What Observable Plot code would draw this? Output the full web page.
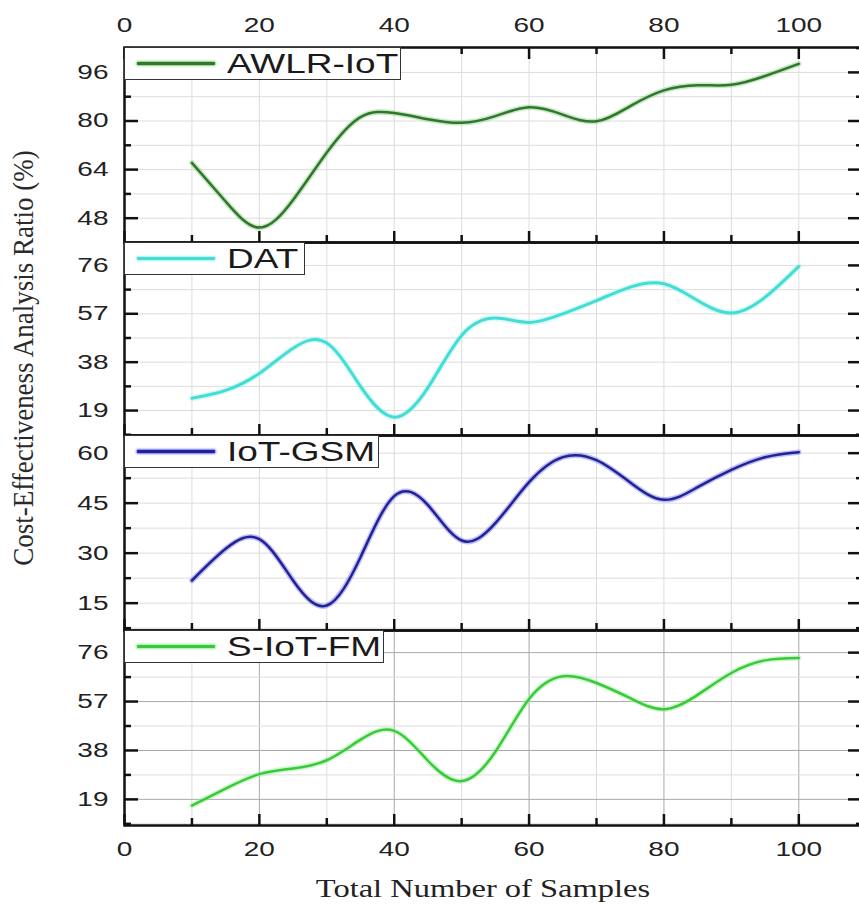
<!DOCTYPE html>
<html><head><meta charset="utf-8">
<script src="https://cdn.jsdelivr.net/npm/d3@7"></script>
<script src="https://cdn.jsdelivr.net/npm/@observablehq/plot@0.6"></script>
<style>
html,body{margin:0;padding:0;background:#fff;overflow:hidden;width:859px;height:904px}
#root{position:relative;width:859px;height:904px;overflow:hidden;background:#fff}
.panel{position:absolute;left:0;width:866px;overflow:visible}
.panel svg{max-width:none !important}
.legend{position:absolute;left:124px;box-sizing:border-box;border:1.5px solid #333;background:#fff;}
.legend .sw{position:absolute;left:12px;top:14px;width:78px;height:3px;border-radius:1px}
.legend .lt{position:absolute;left:102px;top:3px;font-family:"Liberation Sans",Arial,sans-serif;font-size:27px;color:#1a1a1a;transform:scaleX(1.37);transform-origin:left center;white-space:nowrap;line-height:1}
</style></head><body><div id="root"></div>
<script>
// ---- data ----
const samples = [10,15,20,25,30,35,40,45,50,55,60,65,70,75,80,85,90,95,100];
const awlrIoT = [66.2,53.5,44.9,54.0,69.6,81.3,82.6,80.6,79.4,81.6,84.5,82.1,79.9,84.9,90.1,91.8,91.9,94.8,98.8];
const dat     = [23.8,26.9,33.6,43.5,45.5,28.5,16.4,28.0,48.5,55.3,53.6,57.0,62.2,67.5,68.8,62.2,57.3,63.5,75.6];
const iotGSM  = [21.8,31.3,34.2,21.8,14.3,28.8,47.1,44.4,33.8,39.0,51.3,58.8,57.9,51.2,46.0,49.8,55.0,58.8,60.3];
const sIoTFM  = [16.6,23.2,28.8,31.0,34.2,42.2,45.6,34.0,26.1,37.5,58.0,66.8,64.2,58.3,54.0,59.6,68.1,73.0,73.9];

const seriesNames = ["AWLR-IoT","DAT","IoT-GSM","S-IoT-FM"];
const xTickLabels = [0,20,40,60,80,100];
const xMinorTicks = [10,30,50,70,90];
const yTicks1 = [48,64,80,96];
const yTicks2 = [19,38,57,76];
const yTicks3 = [15,30,45,60];
const yTicks4 = [19,38,57,76];
const xTitle = "Total Number of Samples";
const yTitle = "Cost-Effectiveness Analysis Ratio (%)";

// ---- layout ----
const W = 866, ML = 124, MR = 2;
const innerW = W - ML - MR;
const root = document.getElementById("root");
const sansFont = "'Liberation Sans', Arial, sans-serif";

function minorsOf(majors, domain){
  const step = majors[1]-majors[0];
  const out = [];
  for (let v = majors[0] - step/2; v <= domain[1]; v += step/2) {
    if (v > domain[0] && v < domain[1] && !majors.includes(v)) out.push(v);
  }
  return out;
}

function stretchText(svg, sx){
  svg.querySelectorAll('g[aria-label$="tick label"] text').forEach(t => {
    const tr = t.getAttribute("transform") || "";
    t.setAttribute("transform", tr + ` scale(${sx},1)`);
  });
}

function panel(cfg){
  const {values, domain, majors, color, halo, lineWidth, top, innerH, mt, mb, topAxis, bottomAxis, name, legendW, gridMajorColor} = cfg;
  const data = samples.map((x,i)=>({x, y: values[i]}));
  const minors = minorsOf(majors, domain);
  const gridC = "#dcdcdc";
  const gmc = gridMajorColor || gridC;
  const marks = [
    Plot.gridX(xMinorTicks, {stroke: gridC, strokeOpacity: 1, strokeWidth: 1}),
    Plot.gridX([20,40,60,80,100], {stroke: gmc, strokeOpacity: 1, strokeWidth: 1}),
    Plot.gridY(minors, {stroke: gridC, strokeOpacity: 1, strokeWidth: 1}),
    Plot.gridY(majors, {stroke: gmc, strokeOpacity: 1, strokeWidth: 1}),
    Plot.line(data, {x:"x", y:"y", curve:"natural", stroke: halo, strokeWidth: lineWidth + 3, strokeOpacity: 0.45}),
    Plot.line(data, {x:"x", y:"y", curve:"natural", stroke: color, strokeWidth: lineWidth}),
    // inward ticks bottom
    Plot.ruleX(xTickLabels, {insetTop: innerH - 11, stroke:"#111", strokeWidth: 2.5}),
    Plot.ruleX(xMinorTicks, {insetTop: innerH - 7, stroke:"#111", strokeWidth: 2.5}),
    // inward ticks left / right
    Plot.ruleY(majors, {insetRight: innerW - 14, stroke:"#111", strokeWidth: 2.5}),
    Plot.ruleY(minors, {insetRight: innerW - 7, stroke:"#111", strokeWidth: 2.5}),
    Plot.ruleY(majors, {insetLeft: innerW - 16, stroke:"#111", strokeWidth: 2.5}),
    Plot.ruleY(minors, {insetLeft: innerW - 8, stroke:"#111", strokeWidth: 2.5}),
    Plot.frame({stroke:"#111", strokeWidth: 2.5}),
    Plot.axisY(majors, {tickSize: 0, tickPadding: 16, fontSize: 20, fill: "#222", label: null})
  ];
  if (topAxis) {
    marks.push(Plot.ruleX(xTickLabels, {insetBottom: innerH - 12, stroke:"#111", strokeWidth: 2.5}));
    marks.push(Plot.ruleX(xMinorTicks, {insetBottom: innerH - 7, stroke:"#111", strokeWidth: 2.5}));
    marks.push(Plot.axisX(xTickLabels, {anchor:"top", tickSize: 0, tickPadding: 16, fontSize: 20, fill:"#222", label: null}));
  }
  if (bottomAxis) {
    marks.push(Plot.axisX(xTickLabels, {anchor:"bottom", tickSize: 0, tickPadding: 16, fontSize: 20, fill:"#222", label: null}));
  }
  const chart = Plot.plot({
    width: W, height: mt + innerH + mb,
    marginLeft: ML, marginRight: MR, marginTop: mt, marginBottom: mb,
    x: {domain: [0, innerW / 6.743], axis: null},
    y: {domain, axis: null},
    style: {fontFamily: sansFont, fontSize: "20px", background: "transparent", maxWidth: "none", overflow: "visible"},
    marks
  });
  chart.style.maxWidth = "none";
  chart.style.width = W + "px";
  stretchText(chart, 1.4);
  const wrap = document.createElement("div");
  wrap.className = "panel";
  wrap.style.top = (top - mt) + "px";
  wrap.appendChild(chart);
  root.appendChild(wrap);

  // legend box
  const lg = document.createElement("div");
  lg.className = "legend";
  lg.style.top = top + "px";
  lg.style.width = legendW + "px";
  lg.style.height = "33px";
  const sw = document.createElement("div");
  sw.className = "sw";
  sw.style.background = color;
  sw.style.boxShadow = `0 0 2px 1px ${halo}`;
  const lt = document.createElement("div");
  lt.className = "lt";
  lt.textContent = name;
  lg.appendChild(sw); lg.appendChild(lt);
  root.appendChild(lg);
}

panel({values: awlrIoT, domain: [40, 104.2], majors: yTicks1, color: "#327530", halo: "#7fd070", lineWidth: 2.5,
  top: 47, innerH: 195, mt: 47, mb: 0, topAxis: true, name: seriesNames[0], legendW: 277});
panel({values: dat, domain: [9.2, 85], majors: yTicks2, color: "#45dcd4", halo: "#a6f4ef", lineWidth: 3,
  top: 242, innerH: 193, mt: 0, mb: 0, name: seriesNames[1], legendW: 181});
panel({values: iotGSM, domain: [6.8, 65.3], majors: yTicks3, color: "#23238f", halo: "#6f6fff", lineWidth: 2.5,
  top: 435, innerH: 195, mt: 0, mb: 0, name: seriesNames[2], legendW: 255});
panel({values: sIoTFM, domain: [8.85, 84.6], majors: yTicks4, color: "#3cc83c", halo: "#93f093", lineWidth: 2.5,
  top: 630, innerH: 195, mt: 0, mb: 79, bottomAxis: true, name: seriesNames[3], legendW: 260, gridMajorColor: "#a8a8a8"});

// axis titles
const svgNS = "http://www.w3.org/2000/svg";
const ov = document.createElementNS(svgNS, "svg");
ov.setAttribute("width", 859); ov.setAttribute("height", 904);
ov.style.position = "absolute"; ov.style.left = "0"; ov.style.top = "0"; ov.style.pointerEvents = "none";
const yt = document.createElementNS(svgNS, "text");
yt.setAttribute("transform", "translate(33,358) rotate(-90) scale(1,1.1)");
yt.setAttribute("text-anchor", "middle");
yt.setAttribute("font-family", "'Liberation Serif','Times New Roman',serif");
yt.setAttribute("font-size", "27");
yt.setAttribute("fill", "#2a2a2a");
yt.textContent = yTitle;
const xt = document.createElementNS(svgNS, "text");
xt.setAttribute("transform", "translate(483,897) scale(1.25,1)");
xt.setAttribute("text-anchor", "middle");
xt.setAttribute("font-family", "'Liberation Serif','Times New Roman',serif");
xt.setAttribute("font-size", "26");
xt.setAttribute("fill", "#222");
xt.textContent = xTitle;
ov.appendChild(yt); ov.appendChild(xt);
root.appendChild(ov);
</script></body></html>
